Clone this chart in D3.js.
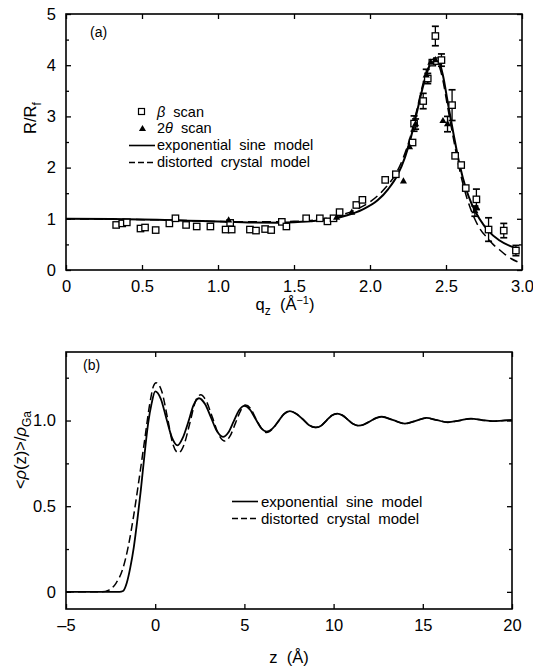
<!DOCTYPE html>
<html>
<head>
<meta charset="utf-8">
<script src="https://cdn.jsdelivr.net/npm/d3@7"></script>
<style>
body { margin: 0; background: #fff; }
svg { display: block; font-family: "Liberation Sans", Arial, sans-serif; }
.axis path { display: none; }
.axis line { stroke: #000; stroke-width: 1.3; }
.axis text { font-size: 16.5px; fill: #000; }
</style>
</head>
<body>
<script>
// panel (a): reflectivity
var qBeta = [0.33, 0.37, 0.40, 0.49, 0.52, 0.59, 0.68, 0.72, 0.79, 0.86, 0.95, 1.05, 1.08, 1.09, 1.21, 1.25, 1.31, 1.35, 1.42, 1.45, 1.58, 1.67, 1.72, 1.76, 1.80, 1.91, 1.95, 2.10, 2.17, 2.28, 2.29, 2.35, 2.38, 2.41, 2.43, 2.44, 2.47, 2.54, 2.56, 2.60, 2.63, 2.70, 2.78, 2.88, 2.96];
var rBeta = [0.88, 0.91, 0.93, 0.81, 0.83, 0.78, 0.91, 1.01, 0.88, 0.85, 0.85, 0.79, 0.92, 0.79, 0.79, 0.77, 0.80, 0.78, 0.94, 0.85, 1.01, 1.01, 0.95, 1.01, 1.13, 1.27, 1.37, 1.76, 1.87, 2.49, 2.86, 3.30, 3.74, 4.05, 4.57, 4.08, 4.10, 3.22, 2.23, 2.05, 1.60, 1.38, 0.79, 0.77, 0.38];
var eBeta = [0, 0, 0, 0, 0, 0, 0, 0, 0, 0, 0, 0, 0, 0, 0, 0, 0, 0, 0, 0, 0, 0, 0, 0, 0, 0, 0, 0, 0, 0, 0.15, 0.15, 0.1, 0, 0.19, 0, 0.12, 0.3, 0, 0, 0, 0.2, 0.23, 0.14, 0.1];

var qTwo = [1.07, 1.78, 1.88, 2.22, 2.26, 2.30, 2.37, 2.40, 2.43, 2.48, 2.51, 2.69, 2.70];
var rTwo = [0.97, 1.02, 1.12, 1.73, 2.40, 2.85, 3.80, 4.05, 4.10, 2.91, 2.85, 1.15, 1.22];
var eTwo = [0, 0, 0, 0, 0, 0.1, 0.12, 0, 0, 0, 0.15, 0.1, 0];

var qSine = [0, 0.3, 0.6, 0.9, 1.2, 1.4, 1.6, 1.75, 1.85, 1.95, 2.05, 2.12, 2.18, 2.23, 2.27, 2.31, 2.35, 2.39, 2.42, 2.45, 2.48, 2.51, 2.55, 2.59, 2.63, 2.67, 2.72, 2.78, 2.85, 2.92, 2.98];
var rSine = [1.0, 0.995, 0.98, 0.955, 0.93, 0.925, 0.95, 1.0, 1.07, 1.18, 1.36, 1.58, 1.85, 2.2, 2.6, 3.1, 3.6, 3.98, 4.12, 4.08, 3.8, 3.3, 2.65, 2.05, 1.6, 1.28, 1.0, 0.76, 0.58, 0.47, 0.41];

var qCrys = [0, 0.6, 1.2, 1.5, 1.75, 1.9, 2.0, 2.1, 2.17, 2.22, 2.27, 2.31, 2.35, 2.39, 2.42, 2.45, 2.48, 2.51, 2.55, 2.59, 2.63, 2.67, 2.72, 2.78, 2.81, 2.85, 2.89, 2.93, 2.97];
var rCrys = [1.0, 0.98, 0.94, 0.95, 1.03, 1.17, 1.33, 1.6, 1.88, 2.2, 2.65, 3.15, 3.65, 4.0, 4.1, 4.02, 3.7, 3.2, 2.55, 1.95, 1.48, 1.13, 0.82, 0.6, 0.5, 0.4, 0.3, 0.22, 0.16];

// panel (b): density profiles
var zSine = [-5, -2.0, -1.8, -1.6, -1.4, -1.2, -1.0, -0.8, -0.6, -0.4, -0.2, 0, 0.32, 0.63, 0.94, 1.25, 1.55, 1.85, 2.15, 2.45, 2.8, 3.12, 3.45, 3.8, 4.1, 4.4, 4.7, 5.0, 5.3, 5.62, 5.95, 6.25, 6.57, 6.9, 7.22, 7.55, 7.9, 8.27, 8.63, 9.0, 9.3, 9.6, 9.9, 10.2, 10.5, 10.8, 11.1, 11.4, 11.7, 12.05, 12.4, 12.7, 13.35, 14.0, 14.6, 15.2, 15.8, 16.4, 17.05, 17.7, 18.3, 18.9, 19.5, 20];
var dSine = [0, 0, 0.005, 0.05, 0.14, 0.26, 0.42, 0.6, 0.8, 0.98, 1.1, 1.17, 1.125, 1.01, 0.9, 0.855, 0.9, 0.99, 1.09, 1.13, 1.095, 1.02, 0.94, 0.905, 0.93, 0.995, 1.06, 1.085, 1.065, 1.01, 0.955, 0.935, 0.953, 0.995, 1.038, 1.055, 1.04, 1.008, 0.973, 0.96, 0.97, 1.0, 1.03, 1.04, 1.03, 1.005, 0.98, 0.97, 0.977, 0.996, 1.015, 1.022, 1.002, 0.982, 0.998, 1.015, 1.002, 0.99, 1.0, 1.011, 1.003, 0.996, 1.0, 1.003];

var zCrys = [-5, -3.0, -2.6, -2.2, -1.8, -1.5, -1.2, -0.9, -0.6, -0.3, -0.1, 0.05, 0.37, 0.68, 1.0, 1.3, 1.62, 1.93, 2.25, 2.55, 2.88, 3.2, 3.55, 3.9, 4.2, 4.5, 4.8, 5.05, 5.35, 5.65, 5.95, 6.25, 6.57, 6.9, 7.22, 7.55, 7.9, 8.27, 8.63, 9.0, 9.3, 9.6, 9.9, 10.2, 10.5, 10.8, 11.1, 11.4, 11.7, 12.05, 12.4, 12.7, 13.35, 14.0, 14.6, 15.2, 15.8, 16.4, 17.05, 17.7, 18.3, 18.9, 19.5, 20];
var dCrys = [0, 0, 0.01, 0.05, 0.14, 0.27, 0.45, 0.66, 0.88, 1.1, 1.2, 1.22, 1.17, 1.02, 0.86, 0.812, 0.86, 0.98, 1.11, 1.15, 1.11, 1.02, 0.92, 0.88, 0.91, 0.985, 1.06, 1.09, 1.07, 1.01, 0.955, 0.93, 0.95, 0.995, 1.038, 1.055, 1.04, 1.008, 0.973, 0.96, 0.97, 1.0, 1.03, 1.04, 1.03, 1.005, 0.98, 0.97, 0.977, 0.996, 1.015, 1.022, 1.002, 0.982, 0.998, 1.015, 1.002, 0.99, 1.0, 1.011, 1.003, 0.996, 1.0, 1.003];

var ticksQ = [0, 0.5, 1.0, 1.5, 2.0, 2.5, 3.0];
var ticksR = [0, 1, 2, 3, 4, 5];
var minorR = [0.5, 1.5, 2.5, 3.5, 4.5];
var ticksZ = [-5, 0, 5, 10, 15, 20];
var ticksD = [0, 0.5, 1.0];
var minorD = [0.25, 0.75, 1.25];

var svg = d3.select('body').append('svg')
	.attr('width', 533)
	.attr('height', 669);

function pairs(xs, ys) {
	return xs.map((v, i) => [v, ys[i]]);
}

// four inward-ticked sides, labels only bottom/left
function frame(g, x, y, box, xt, yt, yMinor, xFmt, yFmt) {
	var tk = 5;
	g.append('g').attr('class', 'axis')
		.attr('transform', `translate(0,${box.bottom})`)
		.call(d3.axisBottom(x).tickValues(xt).tickSize(-tk).tickPadding(10).tickFormat(xFmt));
	g.append('g').attr('class', 'axis')
		.attr('transform', `translate(0,${box.top})`)
		.call(d3.axisTop(x).tickValues(xt).tickSize(-tk).tickFormat(''));
	g.append('g').attr('class', 'axis')
		.attr('transform', `translate(${box.left},0)`)
		.call(d3.axisLeft(y).tickValues(yt).tickSize(-tk).tickPadding(10).tickFormat(yFmt));
	g.append('g').attr('class', 'axis')
		.attr('transform', `translate(${box.right},0)`)
		.call(d3.axisRight(y).tickValues(yt).tickSize(-tk).tickFormat(''));
	g.append('g').attr('class', 'axis')
		.attr('transform', `translate(${box.left},0)`)
		.call(d3.axisLeft(y).tickValues(yMinor).tickSize(-3).tickFormat(''));
	g.append('g').attr('class', 'axis')
		.attr('transform', `translate(${box.right},0)`)
		.call(d3.axisRight(y).tickValues(yMinor).tickSize(-3).tickFormat(''));
	g.append('rect')
		.attr('x', box.left).attr('y', box.top)
		.attr('width', box.right - box.left).attr('height', box.bottom - box.top)
		.attr('fill', 'none').attr('stroke', '#000').attr('stroke-width', 1.6);
}

/* ---------- panel (a) ---------- */
var boxA = {left: 66, right: 522, top: 14, bottom: 270};
var xA = d3.scaleLinear().domain([0, 3]).range([boxA.left, boxA.right]);
var yA = d3.scaleLinear().domain([0, 5]).range([boxA.bottom, boxA.top]);
var gA = svg.append('g');

var lineA = d3.line().x(d => xA(d[0])).y(d => yA(d[1])).curve(d3.curveMonotoneX);

gA.append('path').datum(pairs(qCrys, rCrys))
	.attr('d', lineA).attr('fill', 'none').attr('stroke', '#000')
	.attr('stroke-width', 1.5).attr('stroke-dasharray', '9,5');
gA.append('path').datum(pairs(qSine, rSine))
	.attr('d', lineA).attr('fill', 'none').attr('stroke', '#000').attr('stroke-width', 2);

// error bars
function errBars(g, xs, ys, es) {
	xs.forEach((q, i) => {
		if (!es[i]) return;
		var cx = xA(q);
		var y1 = yA(ys[i] + es[i]);
		var y2 = yA(ys[i] - es[i]);
		g.append('line').attr('x1', cx).attr('x2', cx).attr('y1', y1).attr('y2', y2)
			.attr('stroke', '#000').attr('stroke-width', 1.3);
		[y1, y2].forEach(yy => {
			g.append('line').attr('x1', cx - 3.5).attr('x2', cx + 3.5).attr('y1', yy).attr('y2', yy)
				.attr('stroke', '#000').attr('stroke-width', 1.7);
		});
	});
}
errBars(gA, qBeta, rBeta, eBeta);
errBars(gA, qTwo, rTwo, eTwo);

gA.selectAll('rect.beta').data(pairs(qBeta, rBeta)).enter().append('rect')
	.attr('class', 'beta')
	.attr('x', d => xA(d[0]) - 3.2).attr('y', d => yA(d[1]) - 3.2)
	.attr('width', 6.4).attr('height', 6.4)
	.attr('fill', '#fff').attr('stroke', '#000').attr('stroke-width', 1.3);

var tri = d3.symbol().type(d3.symbolTriangle).size(22);
gA.selectAll('path.two').data(pairs(qTwo, rTwo)).enter().append('path')
	.attr('class', 'two')
	.attr('d', tri)
	.attr('transform', d => `translate(${xA(d[0])},${yA(d[1])})`)
	.attr('fill', '#000');

frame(gA, xA, yA, boxA, ticksQ, ticksR, minorR,
	d => d === 0 ? '0' : d3.format('.1f')(d), d3.format('d'));

gA.append('text').attr('x', 90).attr('y', 37).attr('font-size', 14).text('(a)');

// legend (a)
var legA = gA.append('g').attr('font-size', 14.5);
legA.append('rect').attr('x', 138.5).attr('y', 108.5).attr('width', 6).attr('height', 6)
	.attr('fill', '#fff').attr('stroke', '#000').attr('stroke-width', 1.2);
legA.append('text').attr('x', 157).attr('y', 117).attr('xml:space', 'preserve')
	.html('<tspan font-style="italic">β</tspan>  scan');
legA.append('path').attr('d', tri).attr('transform', 'translate(142.5,129)').attr('fill', '#000');
legA.append('text').attr('x', 157).attr('y', 133).attr('xml:space', 'preserve')
	.html('2<tspan font-style="italic">θ</tspan>  scan');
legA.append('line').attr('x1', 129).attr('x2', 155).attr('y1', 145.5).attr('y2', 145.5)
	.attr('stroke', '#000').attr('stroke-width', 1.6);
legA.append('text').attr('x', 157).attr('y', 150).attr('word-spacing', 4).text('exponential sine model');
legA.append('line').attr('x1', 129).attr('x2', 155).attr('y1', 162.5).attr('y2', 162.5)
	.attr('stroke', '#000').attr('stroke-width', 1.4).attr('stroke-dasharray', '6,3');
legA.append('text').attr('x', 157).attr('y', 167).attr('word-spacing', 4).text('distorted crystal model');

// axis titles (a)
svg.append('text').attr('transform', 'translate(36,118) rotate(-90)')
	.attr('text-anchor', 'middle').attr('font-size', 16.5)
	.html('R/R<tspan dy="5" font-size="12">f</tspan>');
svg.append('text').attr('x', 285).attr('y', 310)
	.attr('text-anchor', 'middle').attr('font-size', 16.5).attr('xml:space', 'preserve')
	.html('q<tspan dy="5" font-size="12">z</tspan><tspan dy="-5">  (Å</tspan><tspan dy="-6" font-size="11">−1</tspan><tspan dy="6">)</tspan>');

/* ---------- panel (b) ---------- */
var boxB = {left: 66, right: 512, top: 352, bottom: 609};
var xB = d3.scaleLinear().domain([-5, 20]).range([boxB.left, boxB.right]);
var yB = d3.scaleLinear().domain([-0.1, 1.4]).range([boxB.bottom, boxB.top]);
var gB = svg.append('g');

var lineB = d3.line().x(d => xB(d[0])).y(d => yB(d[1])).curve(d3.curveMonotoneX);

gB.append('path').datum(pairs(zCrys, dCrys))
	.attr('d', lineB).attr('fill', 'none').attr('stroke', '#000')
	.attr('stroke-width', 1.5).attr('stroke-dasharray', '8,4');
gB.append('path').datum(pairs(zSine, dSine))
	.attr('d', lineB).attr('fill', 'none').attr('stroke', '#000').attr('stroke-width', 1.8);

frame(gB, xB, yB, boxB, ticksZ, ticksD, minorD,
	d => d < 0 ? '–' + Math.abs(d) : String(d),
	d => d === 0 ? '0' : d3.format('.1f')(d));

gB.append('text').attr('x', 83).attr('y', 370).attr('font-size', 14).text('(b)');

var legB = gB.append('g').attr('font-size', 15);
legB.append('line').attr('x1', 232).attr('x2', 258).attr('y1', 501.5).attr('y2', 501.5)
	.attr('stroke', '#000').attr('stroke-width', 1.6);
legB.append('text').attr('x', 261).attr('y', 506.5).attr('word-spacing', 4).text('exponential sine model');
legB.append('line').attr('x1', 232).attr('x2', 258).attr('y1', 518.5).attr('y2', 518.5)
	.attr('stroke', '#000').attr('stroke-width', 1.4).attr('stroke-dasharray', '6,3');
legB.append('text').attr('x', 261).attr('y', 523.5).attr('word-spacing', 4).text('distorted crystal model');

svg.append('text').attr('transform', 'translate(26,450) rotate(-90)')
	.attr('text-anchor', 'middle').attr('font-size', 16.5)
	.html('&lt;<tspan font-style="italic">ρ</tspan>(z)&gt;/<tspan font-style="italic">ρ</tspan><tspan dy="5" font-size="12">Ga</tspan>');
svg.append('text').attr('x', 289).attr('y', 663)
	.attr('text-anchor', 'middle').attr('font-size', 16.5).attr('xml:space', 'preserve')
	.text('z  (Å)');
</script>
</body>
</html>
